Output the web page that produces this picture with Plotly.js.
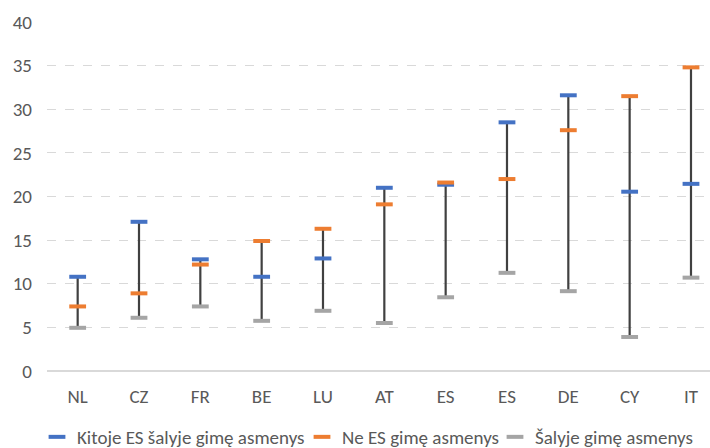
<!DOCTYPE html>
<html>
<head>
<meta charset="utf-8">
<script src="https://cdn.plot.ly/plotly-3.0.1.min.js"></script>
<style>html,body{margin:0;padding:0;overflow:hidden;background:#fff}</style>
</head>
<body>
<div id="chart" style="width:710px;height:448px"></div>
<script>
const categories = ["NL","CZ","FR","BE","LU","AT","ES","ES","DE","CY","IT"];
const otherEU = [10.8, 17.1, 12.8, 10.8, 12.9, 21.0, 21.35, 28.5, 31.6, 20.55, 21.45];
const nonEU = [7.4, 8.9, 12.2, 14.9, 16.3, 19.1, 21.6, 22.0, 27.6, 31.5, 34.8];
const native = [4.95, 6.1, 7.4, 5.75, 6.9, 5.5, 8.45, 11.25, 9.15, 3.9, 10.7];
const seriesNames = ["Kitoje ES šalyje gimę asmenys", "Ne ES gimę asmenys", "Šalyje gimę asmenys"];

const idx = categories.map((_, i) => i);
const font = "Calibri, Carlito, 'Liberation Sans', sans-serif";

// high-low lines
const hlX = [], hlY = [];
idx.forEach(i => {
  const vals = [otherEU[i], nonEU[i], native[i]];
  hlX.push(i, i, null);
  hlY.push(Math.min(...vals), Math.max(...vals), null);
});

const traces = [
  {x: hlX, y: hlY, mode: "lines", line: {color: "#404040", width: 2.2}, showlegend: false, hoverinfo: "skip"}
];
const cols = ["#4472C4", "#ED7D31", "#A5A5A5"];
const legendIds = ["legend", "legend2", "legend3"];
[otherEU, nonEU, native].forEach((s, k) => {
  traces.push({
    x: idx, y: s, name: seriesNames[k], mode: "markers", type: "scatter", legend: legendIds[k],
    marker: {symbol: "line-ew", size: 12, color: cols[k], line: {color: cols[k], width: 4}}
  });
});

function leg(xpx) {
  return {orientation: "h", xref: "container", yref: "container", x: xpx / 710, xanchor: "left",
          y: 11 / 448, yanchor: "middle", font: {size: 19, color: "#595959", family: font},
          itemwidth: 30, bgcolor: "rgba(0,0,0,0)"};
}

const layout = {
  width: 710, height: 448,
  margin: {l: 47, r: 0, t: 22, b: 77},
  paper_bgcolor: "#fff", plot_bgcolor: "#fff",
  font: {family: font, color: "#595959", size: 19},
  showlegend: true,
  legend: leg(37), legend2: leg(302), legend3: leg(495),
  xaxis: {
    range: [-0.5, 10.31], tickmode: "array", tickvals: idx, ticktext: categories,
    showgrid: false, zeroline: false, showline: false, ticks: "", ticklabelstandoff: 12,
    tickfont: {size: 19, color: "#595959"}, fixedrange: true
  },
  yaxis: {
    range: [0, 40], dtick: 5, tick0: 0, showgrid: true, gridcolor: "#D9D9D9", griddash: "dash", gridwidth: 1,
    zeroline: true, zerolinecolor: "#D9D9D9", zerolinewidth: 1.5, showline: false, ticks: "",
    ticklabelstandoff: 14, tickfont: {size: 19, color: "#595959"}, fixedrange: true
  }
};
Plotly.newPlot("chart", traces, layout, {displayModeBar: false, staticPlot: true});
</script>
</body>
</html>
